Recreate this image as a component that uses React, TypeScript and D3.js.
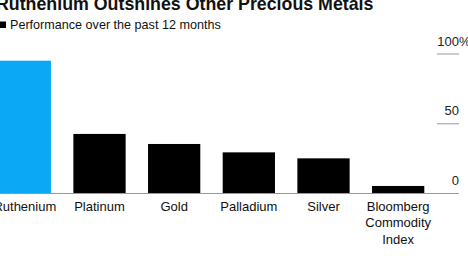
import React from "react";
import * as d3 from "d3";

const categories = ["Ruthenium", "Platinum", "Gold", "Palladium", "Silver", "Bloomberg Commodity Index"];
const performance = [95.2, 42.7, 35.5, 29.5, 25.2, 5.4];
const highlight = ["Ruthenium"];
const yTicks = [0, 50, 100];

const W = 468;
const H = 264;
const FONT = "'Liberation Sans', Arial, Helvetica, sans-serif";

const labelLines: Record<string, string[]> = {
  "Bloomberg Commodity Index": ["Bloomberg", "Commodity", "Index"],
};

export default function App() {
  const x = d3
    .scaleBand<string>()
    .domain(categories)
    .range([-12.5, 435.5])
    .paddingInner(0.3)
    .paddingOuter(0.15);
  const y = d3.scaleLinear().domain([0, 100]).range([193.5, 54]);

  return (
    <svg
      width={W}
      height={H}
      style={{ position: "absolute", left: 0, top: 0, background: "#fff" }}
      fontFamily={FONT}
    >
      <text x={-4} y={10} fontSize={17.8} fontWeight="bold" fill="#111">
        Ruthenium Outshines Other Precious Metals
      </text>
      <rect x={0} y={21.5} width={6} height={6.5} fill="#000" />
      <text x={10} y={29} fontSize={12.6} fill="#111">
        Performance over the past 12 months
      </text>

      {/* value axis: short dashes with labels above */}
      {yTicks.map((t) => (
        <g key={t}>
          {t !== 0 && (
            <line x1={437} x2={459} y1={y(t)} y2={y(t)} stroke="#aaa" strokeWidth={1.2} />
          )}
          <text x={459} y={y(t) - 8.5} fontSize={13} fill="#222" textAnchor="end">
            {t}
          </text>
          {t === 100 && (
            <text x={459} y={y(t) - 8.5} fontSize={13} fill="#222">
              %
            </text>
          )}
        </g>
      ))}

      {categories.map((c, i) => (
        <rect
          key={c}
          x={x(c)}
          y={y(performance[i])}
          width={x.bandwidth()}
          height={y(0) - y(performance[i])}
          fill={highlight.includes(c) ? "#0aa8f5" : "#000"}
        />
      ))}

      <line x1={0} x2={459} y1={y(0)} y2={y(0)} stroke="#999" strokeWidth={1.2} />

      {categories.map((c) => {
        const lines = labelLines[c] ?? [c];
        const cx = (x(c) ?? 0) + x.bandwidth() / 2;
        return (
          <text key={c} x={cx} y={210.5} fontSize={13} fill="#111" textAnchor="middle">
            {lines.map((l, j) => (
              <tspan key={j} x={cx} dy={j === 0 ? 0 : 16.5}>
                {l}
              </tspan>
            ))}
          </text>
        );
      })}
    </svg>
  );
}
